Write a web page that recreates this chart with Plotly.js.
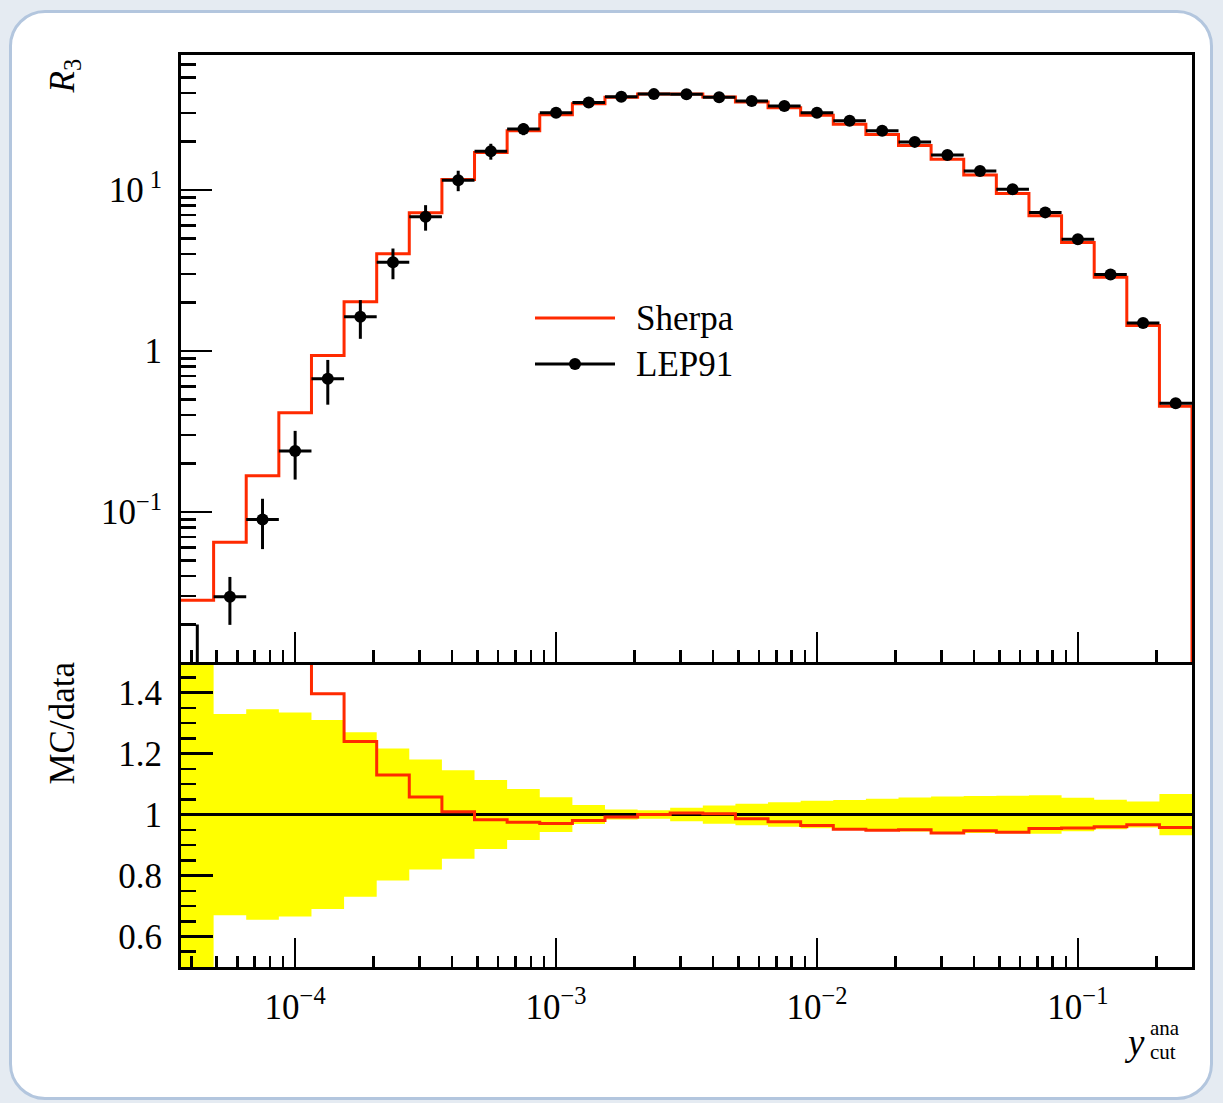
<!DOCTYPE html>
<html><head><meta charset="utf-8">
<script src="https://cdn.plot.ly/plotly-3.0.1.min.js"></script>
<style>
html,body{margin:0;padding:0;background:#e5ebf2;width:1223px;height:1103px;overflow:hidden;}
#card{position:absolute;left:9px;top:10px;width:1198px;height:1084px;background:#fff;border:3px solid #b3c6de;border-radius:36px;}
#chart{position:absolute;left:0;top:0;width:1223px;height:1103px;}
</style></head><body><div id="card"></div><div id="chart"></div>
<script>
// y_cut bin edges and centres (log-spaced, 8 bins per decade)
const binEdges = [3.652e-5, 4.870e-5, 6.494e-5, 8.660e-5, 1.155e-4, 1.540e-4, 2.054e-4, 2.738e-4,
  3.652e-4, 4.870e-4, 6.494e-4, 8.660e-4, 1.155e-3, 1.540e-3, 2.054e-3, 2.738e-3,
  3.652e-3, 4.870e-3, 6.494e-3, 8.660e-3, 1.155e-2, 1.540e-2, 2.054e-2, 2.738e-2,
  3.652e-2, 4.870e-2, 6.494e-2, 8.660e-2, 0.1155, 0.1540, 0.2054, 0.2738];
const binCenters = [4.217e-5, 5.623e-5, 7.499e-5, 1e-4, 1.334e-4, 1.778e-4, 2.371e-4, 3.162e-4,
  4.217e-4, 5.623e-4, 7.499e-4, 1e-3, 1.334e-3, 1.778e-3, 2.371e-3, 3.162e-3,
  4.217e-3, 5.623e-3, 7.499e-3, 1e-2, 1.334e-2, 1.778e-2, 2.371e-2, 3.162e-2,
  4.217e-2, 5.623e-2, 7.499e-2, 0.1, 0.1334, 0.1778, 0.2371];
// Sherpa (MC) R3
const sherpaR3 = [0.0283, 0.0649, 0.168, 0.413, 0.938, 2.02, 4.02, 7.21, 11.6, 17.1, 23.3, 29.3,
  34.3, 37.7, 39.4, 39.5, 37.8, 35.2, 32.4, 29.1, 25.6, 22.1, 18.9, 15.5, 12.4, 9.51, 6.93,
  4.72, 2.87, 1.44, 0.453];
// LEP91 data R3 and errors
const lep91R3 = [0.006, 0.0297, 0.0898, 0.239, 0.672, 1.63, 3.56, 6.82, 11.5, 17.4, 23.9, 30.2,
  35.0, 38.0, 39.4, 39.3, 37.7, 35.7, 33.2, 30.2, 26.9, 23.3, 19.9, 16.5, 13.1, 10.1, 7.26,
  4.94, 2.99, 1.49, 0.473];
const lep91Err = [0.014, 0.0098, 0.031, 0.080, 0.208, 0.44, 0.77, 1.23, 1.67, 1.97, 2.0, 1.72,
  1.09, 0.61, 0.55, 0.86, 1.13, 1.25, 1.33, 1.36, 1.29, 1.21, 1.11, 0.97, 0.79, 0.62, 0.46,
  0.27, 0.144, 0.063, 0.032];
// tick labels
const xTickVals = [1e-4, 1e-3, 1e-2, 1e-1];
const xTickText = ['10<sup>−4</sup>', '10<sup>−3</sup>', '10<sup>−2</sup>', '10<sup>−1</sup>'];
const yTickVals = [0.1, 1, 10];
const yTickText = ['10<sup>−1</sup>', '1', '10<sup> 1</sup>'];
const ratioTickVals = [0.6, 0.8, 1, 1.2, 1.4];
const ratioTickText = ['0.6', '0.8', '1', '1.2', '1.4'];
const seriesNames = ['Sherpa', 'LEP91'];

const RED = '#ff2a00', FONT = '"Liberation Serif", "DejaVu Serif", serif', FS = 35;
const xLogRange = [Math.log10(binEdges[0]), Math.log10(binEdges[binEdges.length - 1])];
const yLogRange = [-1.932, 1.8385];

function minorLog(lo, hi) {
  const v = [];
  for (let k = Math.floor(lo) - 1; k <= Math.ceil(hi); k++)
    for (let d = 2; d <= 9; d++) {
      const t = d * Math.pow(10, k);
      if (Math.log10(t) >= lo && Math.log10(t) <= hi) v.push(t);
    }
  return v;
}
const last = a => a[a.length - 1];
const stepY = a => a.concat([last(a)]);

// ratios
const ratioMC = sherpaR3.map((v, i) => v / lep91R3[i]);
const ratioData = lep91R3.map(v => v / v);
const bandLo = lep91R3.map((v, i) => 1 - lep91Err[i] / v);
const bandHi = lep91R3.map((v, i) => 1 + lep91Err[i] / v);
const dropY = Math.pow(10, yLogRange[0] - 1);

const traces = [
  {x: binEdges.concat([last(binEdges)]), y: stepY(sherpaR3).concat([dropY]), xaxis: 'x2', yaxis: 'y2',
   mode: 'lines', line: {shape: 'hv', color: RED, width: 3}, name: seriesNames[0], showlegend: false},
  {x: binCenters, y: lep91R3, xaxis: 'x2', yaxis: 'y2', mode: 'markers', name: seriesNames[1], showlegend: false,
   marker: {color: '#000', size: 12},
   error_y: {type: 'data', array: lep91Err, color: '#000', thickness: 3, width: 0},
   error_x: {type: 'data', array: binCenters.map((c, i) => binEdges[i + 1] - c),
             arrayminus: binCenters.map((c, i) => c - binEdges[i]), color: '#000', thickness: 3, width: 0}},
  {x: binEdges, y: stepY(bandLo), xaxis: 'x', yaxis: 'y', mode: 'lines',
   line: {shape: 'hv', width: 0, color: 'rgba(0,0,0,0)'}, showlegend: false, hoverinfo: 'skip'},
  {x: binEdges, y: stepY(bandHi), xaxis: 'x', yaxis: 'y', mode: 'lines', fill: 'tonexty', fillcolor: '#ffff00',
   line: {shape: 'hv', width: 0, color: 'rgba(0,0,0,0)'}, showlegend: false, hoverinfo: 'skip'},
  {x: binEdges, y: stepY(ratioData), xaxis: 'x', yaxis: 'y', mode: 'lines',
   line: {shape: 'hv', color: '#000', width: 3}, showlegend: false},
  {x: binEdges, y: stepY(ratioMC), xaxis: 'x', yaxis: 'y', mode: 'lines',
   line: {shape: 'hv', color: RED, width: 3}, showlegend: false}
];

const tickFont = {family: FONT, size: FS, color: '#000'};
const xMinor = minorLog(xLogRange[0], xLogRange[1]);
const yMinor = minorLog(yLogRange[0], yLogRange[1]);
const axBase = {showline: true, mirror: true, linecolor: '#000', linewidth: 3, showgrid: false, zeroline: false,
  ticks: 'inside', tickcolor: '#000', tickwidth: 2.5};

const px = p => (p - 181) / 1011, py = p => (967 - p) / 912;
const txtFont = s => ({family: FONT, size: s, color: '#000'});

const layout = {
  width: 1223, height: 1103, margin: {l: 181, r: 31, t: 55, b: 136},
  paper_bgcolor: 'rgba(0,0,0,0)', plot_bgcolor: '#fff',
  font: {family: FONT, color: '#000'},
  showlegend: false,
  xaxis: Object.assign({}, axBase, {type: 'log', range: xLogRange, domain: [0, 1], anchor: 'y', mirror: false,
    tickmode: 'array', tickvals: xTickVals, ticktext: xTickText, ticklen: 29, tickfont: tickFont,
    ticklabelstandoff: 7,
    minor: {tickmode: 'array', tickvals: xMinor, ticks: 'inside', ticklen: 11, tickwidth: 2.5, tickcolor: '#000', showgrid: false}}),
  yaxis: Object.assign({}, axBase, {range: [0.5, 1.5], domain: [0, 0.3344], anchor: 'x',
    tickmode: 'array', tickvals: ratioTickVals, ticktext: ratioTickText, ticklen: 32, tickfont: tickFont,
    ticklabelstandoff: 9,
    minor: {dtick: 0.05, tick0: 0, ticks: 'inside', ticklen: 15, tickwidth: 2.5, tickcolor: '#000', showgrid: false}}),
  xaxis2: Object.assign({}, axBase, {type: 'log', range: xLogRange, domain: [0, 1], anchor: 'y2', matches: 'x',
    tickmode: 'array', tickvals: xTickVals, ticktext: xTickText, ticklen: 30, showticklabels: false,
    minor: {tickmode: 'array', tickvals: xMinor, ticks: 'inside', ticklen: 12, tickwidth: 2.5, tickcolor: '#000', showgrid: false}}),
  yaxis2: Object.assign({}, axBase, {type: 'log', range: yLogRange, domain: [0.3344, 1], anchor: 'x2',
    tickmode: 'array', tickvals: yTickVals, ticktext: yTickText, ticklen: 31, tickfont: tickFont,
    ticklabelstandoff: 9,
    minor: {tickmode: 'array', tickvals: yMinor, ticks: 'inside', ticklen: 15, tickwidth: 2.5, tickcolor: '#000', showgrid: false}}),
  shapes: [
    {type: 'line', xref: 'paper', yref: 'paper', x0: px(535), x1: px(615), y0: py(318), y1: py(318), line: {color: RED, width: 3}},
    {type: 'line', xref: 'paper', yref: 'paper', x0: px(535), x1: px(615), y0: py(364), y1: py(364), line: {color: '#000', width: 3}},
    {type: 'circle', xref: 'paper', yref: 'paper', xsizemode: 'pixel', ysizemode: 'pixel',
     xanchor: px(575), yanchor: py(364), x0: -6, x1: 6, y0: -6, y1: 6, fillcolor: '#000', line: {color: '#000', width: 0}}
  ],
  annotations: [
    {text: seriesNames[0], xref: 'paper', yref: 'paper', x: px(634), y: py(318), xanchor: 'left', yanchor: 'middle',
     showarrow: false, font: txtFont(FS)},
    {text: seriesNames[1], xref: 'paper', yref: 'paper', x: px(634), y: py(364), xanchor: 'left', yanchor: 'middle',
     showarrow: false, font: txtFont(FS)},
    {text: '<i>R</i><sub>3</sub>', xref: 'paper', yref: 'paper', x: px(64), y: py(57), xanchor: 'center', yanchor: 'top',
     textangle: -90, showarrow: false, font: txtFont(FS)},
    {text: 'MC/data', xref: 'paper', yref: 'paper', x: px(62), y: py(660), xanchor: 'center', yanchor: 'top',
     textangle: -90, showarrow: false, font: txtFont(FS)},
    {text: '<i>y</i>', xref: 'paper', yref: 'paper', x: px(1147), y: py(1042), xanchor: 'right', yanchor: 'middle',
     showarrow: false, font: txtFont(37)},
    {text: 'ana', xref: 'paper', yref: 'paper', x: px(1148), y: py(1028), xanchor: 'left', yanchor: 'middle',
     showarrow: false, font: txtFont(21)},
    {text: 'cut', xref: 'paper', yref: 'paper', x: px(1148), y: py(1052), xanchor: 'left', yanchor: 'middle',
     showarrow: false, font: txtFont(21)}
  ]
};

Plotly.newPlot('chart', traces, layout, {displayModeBar: false, staticPlot: true});
</script></body></html>
